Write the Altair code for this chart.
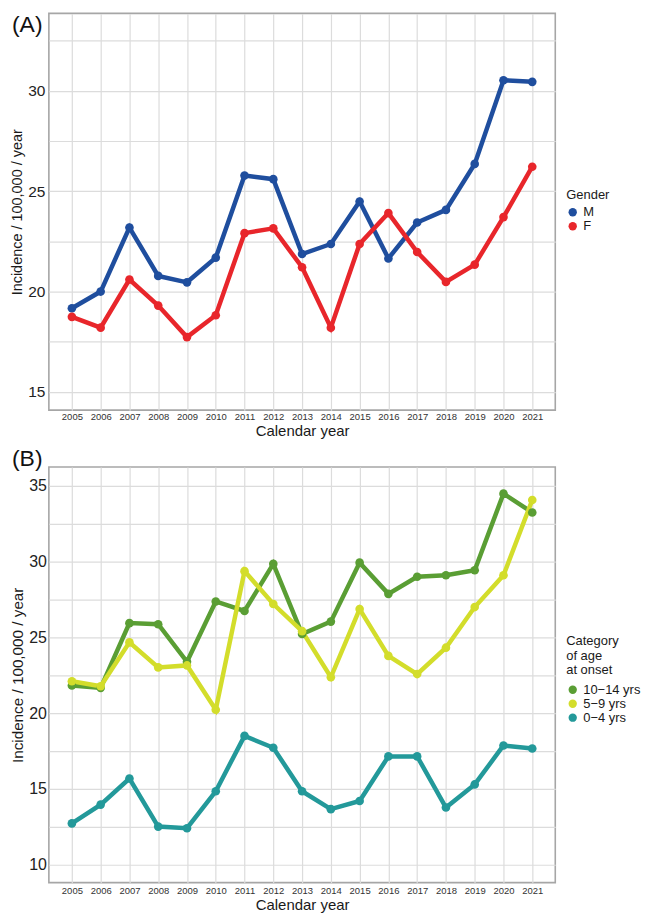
import altair as alt
import pandas as pd

years = list(range(2005, 2022))

# Panel A: incidence by gender
male = [19.17, 20.0, 23.19, 20.78, 20.46, 21.69, 25.78, 25.6, 21.87, 22.37,
        24.49, 21.65, 23.44, 24.07, 26.36, 30.53, 30.45]
female = [18.74, 18.2, 20.6, 19.3, 17.73, 18.82, 22.91, 23.15, 21.21, 18.2,
          22.37, 23.91, 21.97, 20.48, 21.34, 23.71, 26.22]
gender_labels = ["M", "F"]
gender_colors = ["#1f4e9e", "#e8262b"]

# Panel B: incidence by age at onset
age_10_14 = [21.83, 21.67, 25.94, 25.87, 23.39, 27.37, 26.74, 29.85, 25.22, 26.04,
             29.93, 27.87, 29.0, 29.1, 29.43, 34.48, 33.24]
age_5_9 = [22.11, 21.78, 24.67, 23.02, 23.15, 20.23, 29.37, 27.2, 25.41, 22.37,
           26.87, 23.78, 22.58, 24.32, 27.0, 29.1, 34.06]
age_0_4 = [12.73, 13.97, 15.69, 12.52, 12.41, 14.85, 18.5, 17.72, 14.85, 13.67,
           14.21, 17.15, 17.15, 13.78, 15.3, 17.87, 17.67]
age_labels = ["10\u221214 yrs", "5\u22129 yrs", "0\u22124 yrs"]
age_colors = ["#5a9e34", "#d3dd2b", "#23999a"]

FONT = "Liberation Sans"


def long_df(series, labels):
    rows = []
    for lab, vals in zip(labels, series):
        for y, v in zip(years, vals):
            rows.append({"year": y, "value": v, "group": lab})
    return pd.DataFrame(rows)


def make_legend(title, legend_y, title_pad):
    return alt.Legend(title=title, orient="none", legendX=519, legendY=legend_y,
                      symbolType="circle", symbolSize=70,
                      symbolOpacity=1, symbolStrokeWidth=0,
                      titleFontSize=13, titleFontWeight="normal",
                      titleColor="#1a1a1a", titleLineHeight=14.5,
                      titlePadding=title_pad,
                      labelFontSize=13, labelColor="#1a1a1a",
                      rowPadding=0, padding=0, labelOffset=4)


def panel(df, labels, colors, legend_title, ydom, ygrid, tag, tag_y, height,
          ytitle_size, ylabel_size, ylabel_pad, xlabel_pad, legend_y, title_pad):
    x = alt.X("year:Q",
              scale=alt.Scale(domain=[2004.2, 2021.8], nice=False, zero=False),
              axis=alt.Axis(values=years, format="d", title="Calendar year",
                            labelFontSize=9.5, labelColor="#333333",
                            labelPadding=xlabel_pad, ticks=False, domain=False,
                            titleFontSize=15, titleFontWeight="normal",
                            titleColor="#1a1a1a", titlePadding=2,
                            gridColor="#dcdcdc", gridWidth=1.2,
                            labelFlush=False))
    y = alt.Y("value:Q",
              scale=alt.Scale(domain=ydom, nice=False, zero=False),
              axis=alt.Axis(values=ygrid, title="Incidence / 100,000 / year",
                            labelExpr="datum.value % 5 === 0 ? datum.label : ''",
                            labelFontSize=ylabel_size, labelColor="#222222",
                            labelPadding=ylabel_pad, ticks=False, domain=False,
                            titleFontSize=ytitle_size, titleFontWeight="normal",
                            titleColor="#1a1a1a", titlePadding=3,
                            gridColor="#dcdcdc", gridWidth=1.2))
    leg = make_legend(legend_title, legend_y, title_pad)
    lines = alt.Chart(df).mark_line(strokeWidth=4.5).encode(
        x=x, y=y,
        stroke=alt.Stroke("group:N", scale=alt.Scale(domain=labels, range=colors),
                          sort=labels, legend=leg),
        detail="group:N",
    )
    pts = alt.Chart(df).mark_circle(size=75, opacity=1).encode(
        x=x, y=y,
        fill=alt.Fill("group:N", scale=alt.Scale(domain=labels, range=colors),
                      sort=labels, legend=leg),
    )
    tag_df = pd.DataFrame({"t": [tag]})
    tag_mark = alt.Chart(tag_df).mark_text(
        fontSize=23, align="left", baseline="alphabetic", color="#111111",
        font=FONT,
    ).encode(x=alt.value(-37), y=alt.value(tag_y), text="t:N")
    return alt.layer(lines, pts, tag_mark).properties(width=508, height=height)


df_a = long_df([male, female], gender_labels)
df_b = long_df([age_10_14, age_5_9, age_0_4], age_labels)

grid_a = [15, 17.5, 20, 22.5, 25, 27.5, 30, 32.5]
grid_b = [10, 12.5, 15, 17.5, 20, 22.5, 25, 27.5, 30, 32.5, 35]

top = panel(df_a, gender_labels, gender_colors, "Gender", [14.09, 33.86], grid_a,
            "(A)", 19, 398, 14.5, 15.5, 4, 1.5, 176, 4)
bottom = panel(df_b, age_labels, age_colors, ["Category", "of age", "at onset"],
               [8.82, 36.24], grid_b, "(B)", -1, 417, 15.3, 16, 2.5, 3, 169, 6)

chart = alt.vconcat(top, bottom, spacing=8).resolve_scale(
    fill="independent", stroke="independent"
).properties(
    padding={"left": 0, "top": 3, "right": 0, "bottom": 0}
).configure(font=FONT).configure_view(stroke="#a6a6a6", strokeWidth=1.6)

chart.save("out.html", embed_options={"renderer": "svg", "actions": False})
